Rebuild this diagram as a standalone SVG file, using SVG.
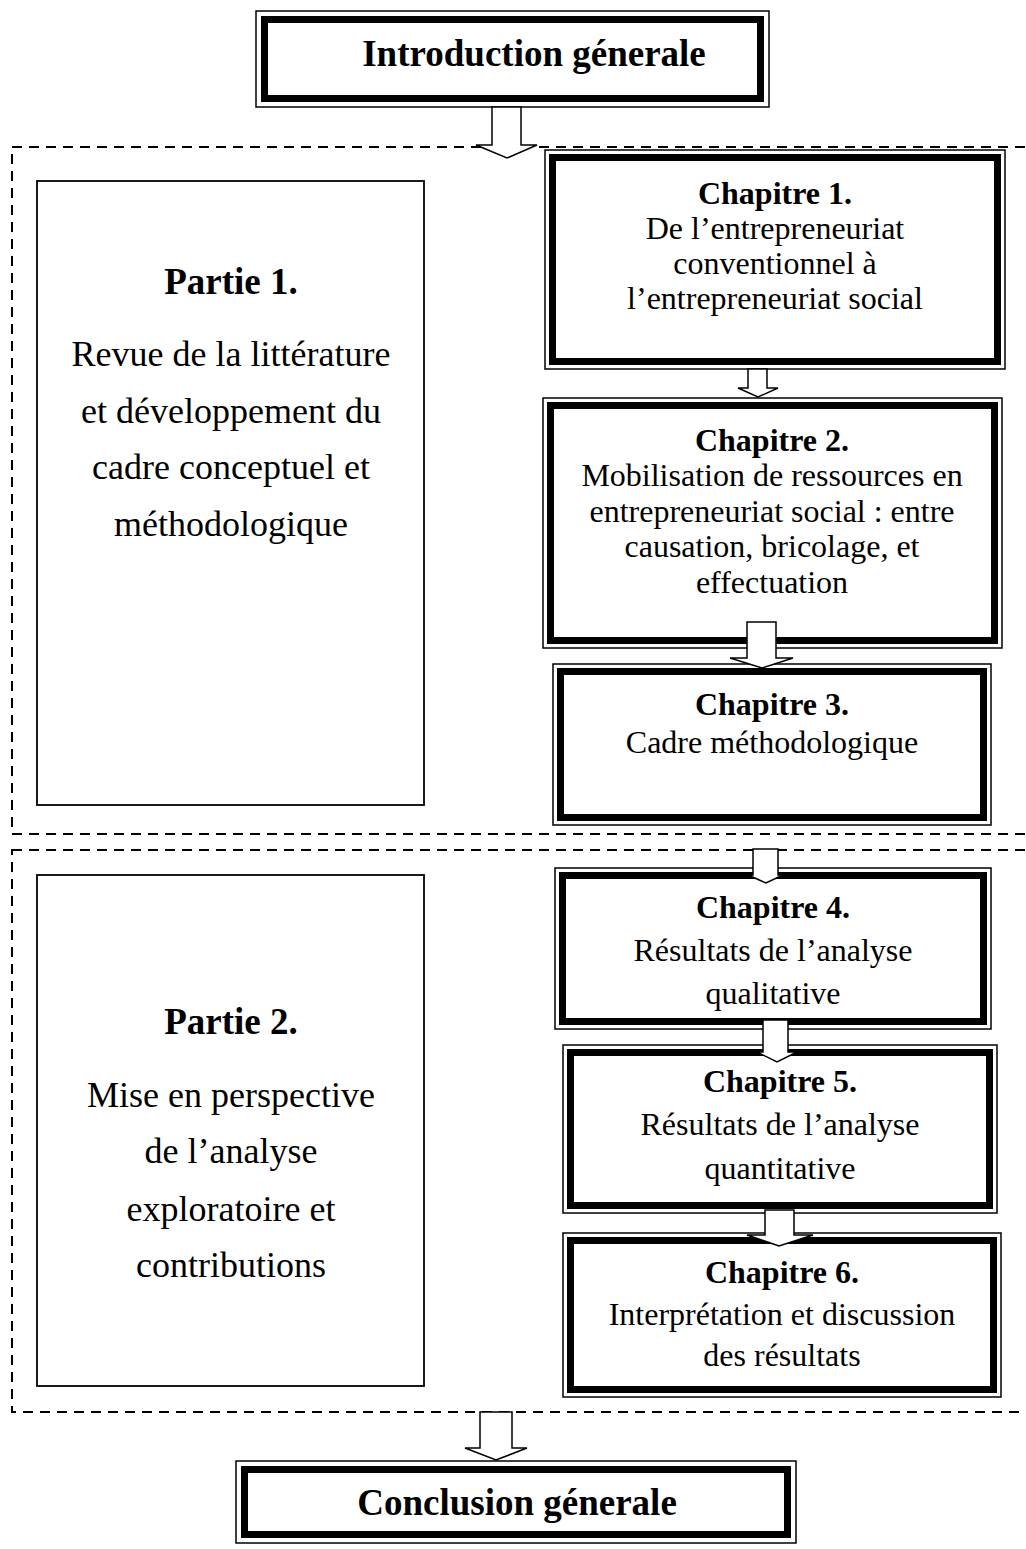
<svg xmlns="http://www.w3.org/2000/svg" width="1026" height="1549" viewBox="0 0 1026 1549">
<style>
.bg{fill:#fff}
.dash{fill:none;stroke:#000;stroke-width:2;stroke-dasharray:10 7}
.part{fill:none;stroke:#000;stroke-width:1.8}
.outer{fill:#fff;stroke:#000;stroke-width:1.5}
.inner{fill:none;stroke:#000;stroke-width:7}
.arrow{fill:#fff;stroke:#000;stroke-width:1.5;stroke-linejoin:miter}
text{font-family:"Liberation Serif","Times New Roman",serif;fill:#000;text-anchor:middle}
.t-big{font-size:37px;font-weight:bold}
.t-part{font-size:36px}
.t-partb{font-size:37px;font-weight:bold}
.t-ch{font-size:32px}
.t-chb{font-size:32px;font-weight:bold}
</style>
<rect class="bg" x="0" y="0" width="1026" height="1549"/>

<g id="sections">
  <rect class="dash" x="12" y="147" width="1030" height="687"/>
  <rect class="dash" x="12" y="850" width="1030" height="562"/>
</g>

<g id="intro">
  <rect class="outer" x="256" y="11" width="513" height="96"/>
  <rect class="inner" x="264.5" y="19.5" width="496" height="79"/>
  <text class="t-big" x="534" y="66">Introduction génerale</text>
</g>

<g id="partie1">
  <rect class="part" x="37" y="181" width="387" height="624"/>
  <text class="t-partb" x="231" y="294">Partie 1.</text>
  <text class="t-part" x="231" y="366">Revue de la littérature</text>
  <text class="t-part" x="231" y="423">et développement du</text>
  <text class="t-part" x="231" y="479">cadre conceptuel et</text>
  <text class="t-part" x="231" y="536">méthodologique</text>
</g>

<g id="partie2">
  <rect class="part" x="37" y="875" width="387" height="511"/>
  <text class="t-partb" x="231" y="1034">Partie 2.</text>
  <text class="t-part" x="231" y="1107">Mise en perspective</text>
  <text class="t-part" x="231" y="1163">de l’analyse</text>
  <text class="t-part" x="231" y="1221">exploratoire et</text>
  <text class="t-part" x="231" y="1277">contributions</text>
</g>

<g id="chapitre1">
  <rect class="outer" x="545" y="150" width="460" height="219"/>
  <rect class="inner" x="552.5" y="157.5" width="445" height="204"/>
  <text class="t-chb" x="775" y="204">Chapitre 1.</text>
  <text class="t-ch" x="775" y="239">De l’entrepreneuriat</text>
  <text class="t-ch" x="775" y="274">conventionnel à</text>
  <text class="t-ch" x="775" y="309">l’entrepreneuriat social</text>
</g>

<g id="chapitre2">
  <rect class="outer" x="543" y="398" width="459" height="250"/>
  <rect class="inner" x="550.5" y="405.5" width="444" height="235"/>
  <text class="t-chb" x="772" y="451">Chapitre 2.</text>
  <text class="t-ch" x="772" y="486">Mobilisation de ressources en</text>
  <text class="t-ch" x="772" y="522">entrepreneuriat social : entre</text>
  <text class="t-ch" x="772" y="557">causation, bricolage, et</text>
  <text class="t-ch" x="772" y="593">effectuation</text>
</g>

<g id="chapitre3">
  <rect class="outer" x="553" y="664" width="438" height="161"/>
  <rect class="inner" x="560.5" y="671.5" width="423" height="146"/>
  <text class="t-chb" x="772" y="715">Chapitre 3.</text>
  <text class="t-ch" x="772" y="753">Cadre méthodologique</text>
</g>

<g id="chapitre4">
  <rect class="outer" x="555" y="868" width="436" height="161"/>
  <rect class="inner" x="562.5" y="875.5" width="421" height="146"/>
  <text class="t-chb" x="773" y="918">Chapitre 4.</text>
  <text class="t-ch" x="773" y="961">Résultats de l’analyse</text>
  <text class="t-ch" x="773" y="1004">qualitative</text>
</g>

<g id="chapitre5">
  <rect class="outer" x="563" y="1045" width="434" height="168"/>
  <rect class="inner" x="570.5" y="1052.5" width="419" height="153"/>
  <text class="t-chb" x="780" y="1092">Chapitre 5.</text>
  <text class="t-ch" x="780" y="1135">Résultats de l’analyse</text>
  <text class="t-ch" x="780" y="1179">quantitative</text>
</g>

<g id="chapitre6">
  <rect class="outer" x="563" y="1233" width="438" height="164"/>
  <rect class="inner" x="570.5" y="1240.5" width="423" height="149"/>
  <text class="t-chb" x="782" y="1283">Chapitre 6.</text>
  <text class="t-ch" x="782" y="1325">Interprétation et discussion</text>
  <text class="t-ch" x="782" y="1366">des résultats</text>
</g>

<g id="conclusion">
  <rect class="outer" x="236" y="1461" width="560" height="82"/>
  <rect class="inner" x="244.5" y="1469.5" width="543" height="65"/>
  <text class="t-big" x="517" y="1515">Conclusion génerale</text>
</g>

<g id="connectors">
  <polygon class="arrow" points="492,107 521,107 521,145 537,145 507,158 476,145 492,145"/>
  <polygon class="arrow" points="748,369 767,369 767,388 778,388 758,397 738,388 748,388"/>
  <polygon class="arrow" points="747,622 776,622 776,658 793,658 762,668 730,658 747,658"/>
  <polygon class="arrow" points="753,849 778,849 778,875 783,875 766,883 748,875 753,875"/>
  <polygon class="arrow" points="763,1020 788,1020 788,1052 797,1052 777,1062 757,1052 763,1052"/>
  <polygon class="arrow" points="765,1210 794,1210 794,1235 813,1235 779,1246 747,1235 765,1235"/>
  <polygon class="arrow" points="480,1412 512,1412 512,1448 527,1448 496,1460 465,1448 480,1448"/>
</g>
</svg>
